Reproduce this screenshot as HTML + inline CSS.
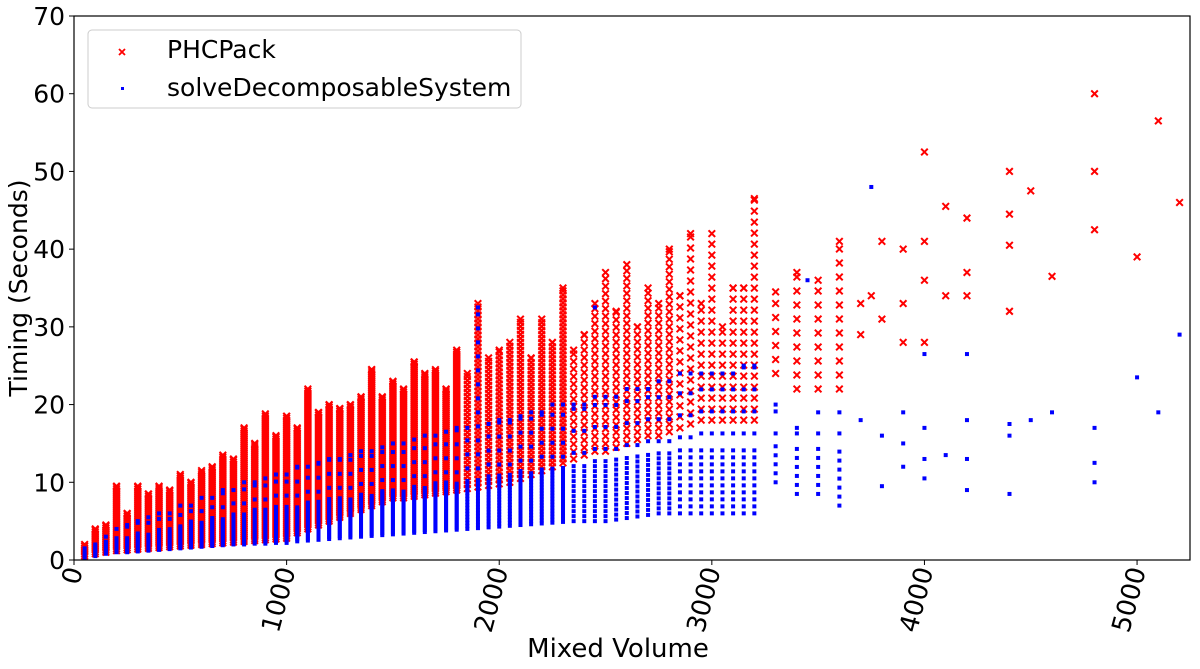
<!DOCTYPE html>
<html><head><meta charset="utf-8"><style>
body{margin:0;background:#fff;}
svg{display:block;font-family:"DejaVu Sans","Liberation Sans",sans-serif;}
</style></head><body>
<svg id="chart" width="1200" height="669" xmlns="http://www.w3.org/2000/svg">
<g id="marks"></g>
<g id="axes"></g>
</svg>
<script>
const colX   =[50,100,150,200,250,300,350,400,450,500,550,600,650,700,750,800,850,900,950,1000,1050,1100,1150,1200,1250,1300,1350,1400,1450,1500,1550,1600,1650,1700,1750,1800,1850,1900,1950,2000,2050,2100,2150,2200,2250,2300,2350,2400,2450,2500,2550,2600,2650,2700,2750,2800,2850,2900,2950,3000,3050,3100,3150,3200,3300,3400,3500,3600];
const redLo  =[0.5,0.8,1,1.2,1.3,1.4,1.5,1.6,1.7,1.8,1.9,2,2.1,2.2,2.3,2.4,2.5,2.6,2.7,2.8,3.5,4,4.5,5,5.5,6,6.5,7,7.5,8,8,8.2,8.4,8.6,8.8,9,9.2,9.4,9.6,9.8,10,10.5,11,11.5,12,12.5,13,13.5,14,14,14.5,15,15.5,16,16,16.5,17,17.5,18,18,18,18,18,18,24,22,22,22];
const redHi  =[2,4,4.5,9.5,6,9.5,8.5,9.5,9,11,10,11.5,12,13.5,13,17,15,18.8,16,18.5,17,22,19,20,19.5,20,21,24.5,21,23,22,25.5,24,24.5,22,27,24,33,26,27,28,31,26,31,28,35,27,29,33,37,32,38,30,35,33,40,34,42,33,42,30,35,35,46.5,34.5,37,36,41];
const blueLo =[0.3,0.5,0.8,1,1,1.1,1.2,1.3,1.4,1.5,1.6,1.7,1.8,1.9,2,2,2.1,2.1,2.2,2.2,2.4,2.5,2.6,2.7,2.8,2.9,3,3.1,3.2,3.3,3.4,3.5,3.6,3.7,3.8,3.9,4,4.1,4.2,4.3,4.4,4.5,4.6,4.7,4.8,4.9,5,5,5,5,5.2,5.4,5.6,5.8,6,6,6,6,6,6,6,6,6,6,10,8.5,8.5,7];
const blueHi =[1.2,2,2.5,3,3,3.5,3.5,4,4,4.5,5,5,5.5,5.5,6,6,6.5,6.5,7,7,7,7.5,7.5,8,8,8,8.5,8.5,9,9,9,9.5,9.5,10,10,10,10.5,10.5,11,11,11,11.5,11.5,12,12,12,12.5,12.5,13,13,13,13.5,13.5,14,14,14,14.5,14.5,15,15,15,15,15,15,15,15,15,15];
const blueTop=[1.5,2,3,4,4.5,5,5.5,6,6,7,7,8,8,9,9,10,10,10.5,11,11,12,12,12.5,13,13,13.5,14,14,14.5,15,15,15.5,16,16,16.5,17,17,32.5,17.5,18,18,18.5,19,19,20,20,20,20,21,21,21,22,22,22,23,23,24,24,24,24,24,24,25,25,20,17,19,19];
const redPtsX=[3700,3700,3750,3800,3800,3900,3900,3900,4000,4000,4000,4000,4100,4100,4200,4200,4200,4400,4400,4400,4400,4500,4600,4800,4800,4800,5000,5100,5200];
const redPtsY=[29,33,34,41,31,40,28,33,41,52.5,28,36,45.5,34,44,37,34,50,44.5,32,40.5,47.5,36.5,60,50,42.5,39,56.5,46];
const bluePtsX=[3700,3750,3800,3800,3900,3900,3900,4000,4000,4000,4000,4100,4200,4200,4200,4200,4400,4400,4400,4500,4600,4800,4800,4800,5000,5100,5200,2450,3450];
const bluePtsY=[18,48,16,9.5,19,12,15,26.5,17,10.5,13,13.5,26.5,18,9,13,17.5,8.5,16,18,19,17,12.5,10,23.5,19,29,32.5,36];
const yTicks=[0,10,20,30,40,50,60,70];
const xTicks=[0,1000,2000,3000,4000,5000];

const L=74,R=1190,T=16,B=560,XMAX=5249,YMAX=70;
const sx=v=>L+(v/XMAX)*(R-L);
const sy=v=>B-(v/YMAX)*(B-T);
const NS="http://www.w3.org/2000/svg";
const marks=document.getElementById('marks'), axes=document.getElementById('axes');
function mk(tag,attrs,parent){const e=document.createElementNS(NS,tag);for(const k in attrs)e.setAttribute(k,attrs[k]);parent.appendChild(e);return e;}
function cross(x,y){const s=3.3;
  const p=mk('path',{d:`M${x-s},${y-s}L${x+s},${y+s}M${x-s},${y+s}L${x+s},${y-s}`,stroke:'#ff0000','stroke-width':2,fill:'none'},marks);
  
  }
function dot(x,y){
  const r=mk('rect',{x:x-2,y:y-2,width:4,height:4,fill:'#0000ff'},marks);
  
  }
colX.forEach((xv,i)=>{const x=sx(xv);const a=sy(redLo[i]),b=sy(redHi[i]);
  const step=xv>3200?14:(xv>2800?11:(xv>2300?7.5:(xv>1800?4:2)));
  for(let y=a;y>=b;y-=step)cross(x,y); cross(x,b);});
redPtsX.forEach((xv,i)=>cross(sx(xv),sy(redPtsY[i])));
colX.forEach((xv,i)=>{const x=sx(xv);const a=sy(blueLo[i]),b=sy(blueHi[i]),c=sy(blueTop[i]);
  const step=xv>3200?9:(xv>2800?7:(xv>2300?5:(xv>1800?3:2)));
  for(let y=a;y>=b;y-=step)dot(x,y);
  for(let y=b-10;y>=c;y-=(xv>2300?22:14))dot(x,y); dot(x,c);});
bluePtsX.forEach((xv,i)=>dot(sx(xv),sy(bluePtsY[i])));

const fr=mk('rect',{x:L,y:T,width:R-L,height:B-T,fill:'none',stroke:'#000','stroke-width':1.2},axes);

yTicks.forEach(v=>{const y=sy(v);
  mk('line',{x1:L-5,x2:L,y1:y,y2:y,stroke:'#000'},axes);
  const t=mk('text',{x:L-9,y:y+9,'font-size':25,'text-anchor':'end'},axes);t.textContent=v;
  });
xTicks.forEach(v=>{const x=sx(v);
  mk('line',{x1:x,x2:x,y1:B,y2:B+5,stroke:'#000'},axes);
  const t=mk('text',{x:0,y:0,'font-size':26,'text-anchor':'end',transform:`translate(${x+9},${B+10}) rotate(-75)`},axes);t.textContent=v;
  });
const xt=mk('text',{x:(L+R)/2-14,y:657,'font-size':26,'text-anchor':'middle'},axes);xt.textContent='Mixed Volume';

const yt=mk('text',{x:0,y:0,'font-size':25,'text-anchor':'middle',transform:`translate(27,${(T+B)/2}) rotate(-90)`},axes);yt.textContent='Timing (Seconds)';

const lg=mk('g',{},axes);
mk('rect',{x:88,y:30,width:433,height:78,rx:4,fill:'#fff','fill-opacity':0.85,stroke:'#cccccc'},lg);
const s=3;mk('path',{d:`M${122-s},${52-s}L${122+s},${52+s}M${122-s},${52+s}L${122+s},${52-s}`,stroke:'#ff0000','stroke-width':1.8},lg);
mk('rect',{x:121,y:87,width:3,height:3,fill:'#0000ff'},lg);
const l1=mk('text',{x:167,y:58,'font-size':25},lg);l1.textContent='PHCPack';

const l2=mk('text',{x:167,y:96,'font-size':25},lg);l2.textContent='solveDecomposableSystem';

</script>
</body></html>
